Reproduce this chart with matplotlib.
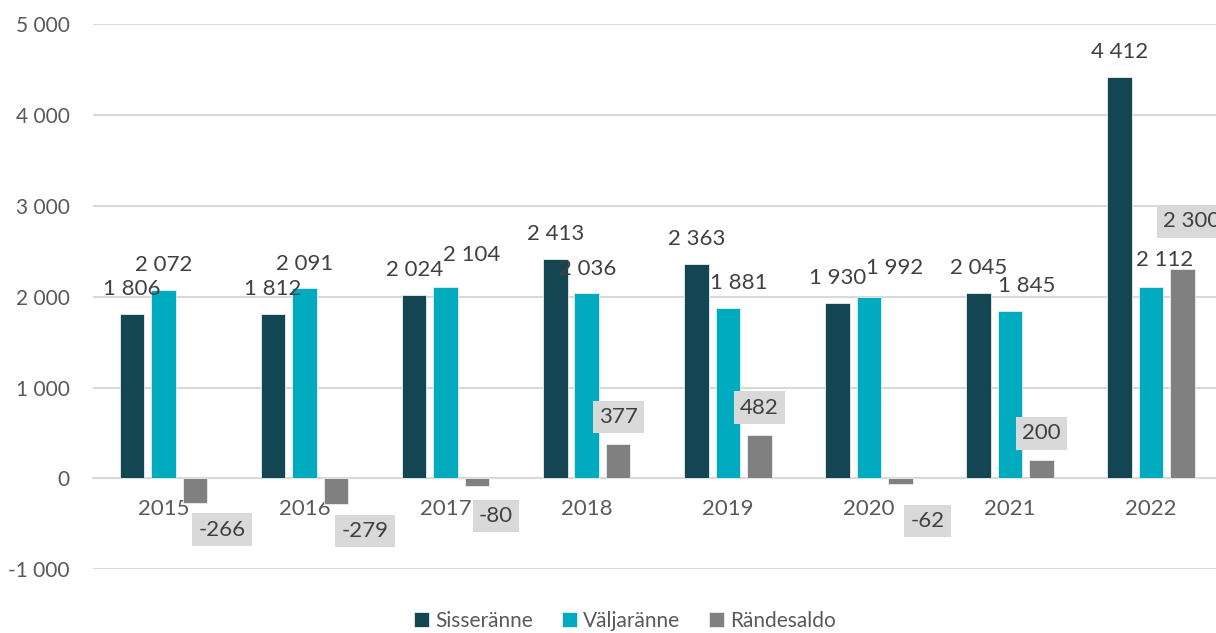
import matplotlib
matplotlib.use("Agg")
import matplotlib.pyplot as plt
import numpy as np

# Andmed
aastad = ["2015", "2016", "2017", "2018", "2019", "2020", "2021", "2022"]
sisseranne = [1806, 1812, 2024, 2413, 2363, 1930, 2045, 4412]
valjaranne = [2072, 2091, 2104, 2036, 1881, 1992, 1845, 2112]
randesaldo = [-266, -279, -80, 377, 482, -62, 200, 2300]

# sildi nihked pikslites (dx, dy) tulba otsast
nihe_sisse = [(0, 25)] * 8
nihe_valja = [(0, 25), (0, 24), (26, 32), (1, 24), (11, 25), (26, 29), (17, 25), (14, 27)]
nihe_saldo = [(27, -27), (29, -27), (19, -30), (0, 27), (0, 27), (27, -37), (0, 27), (9, 48)]

varvid = ["#134652", "#00ABC0", "#808080"]
tekst = "#404040"

plt.rcParams["font.family"] = ["Lato", "DejaVu Sans"]


def vorming(v):
    s = f"{abs(v):,}".replace(",", " ")
    return ("-" if v < 0 else "") + s


fig = plt.figure(figsize=(12.16, 6.33), dpi=100)
ax = fig.add_axes([0.0764, 0.1005, 0.9236, 0.8616])

x = np.arange(len(aastad))
laius = 0.174
samm = 0.223

seeriad = [
    ("Sisseränne", sisseranne, -samm, nihe_sisse),
    ("Väljaränne", valjaranne, 0, nihe_valja),
    ("Rändesaldo", randesaldo, samm, nihe_saldo),
]

for i, (nimi, vaartused, nihe, sildid) in enumerate(seeriad):
    tulbad = ax.bar(x + nihe, vaartused, width=laius, color=varvid[i],
                    edgecolor="#E8EEF0", linewidth=0.6, label=nimi, zorder=3)
    for tulp, v, (dx, dy) in zip(tulbad, vaartused, sildid):
        xc = tulp.get_x() + tulp.get_width() / 2
        kast = None
        if i == 2:
            kast = dict(boxstyle="square,pad=0.28", facecolor="#D9D9D9", edgecolor="none")
        ax.annotate(vorming(v), xy=(xc, v), xytext=(dx, dy),
                    textcoords="offset pixels", ha="center", va="center",
                    fontsize=16, color=tekst, bbox=kast, zorder=5,
                    annotation_clip=False)

ax.set_ylim(-1000, 5000)
ax.set_xlim(-0.5, 7.46)
ax.set_yticks(range(-1000, 5001, 1000))
ax.set_yticklabels([vorming(v) for v in range(-1000, 5001, 1000)])
ax.set_xticks(x)
ax.set_xticklabels(aastad)

ax.grid(axis="y", color="#D9D9D9", linewidth=1.5, zorder=0)
for s in ["top", "right", "left"]:
    ax.spines[s].set_visible(False)
ax.spines["bottom"].set_position(("data", 0))
ax.spines["bottom"].set_color("#D9D9D9")
ax.spines["bottom"].set_linewidth(1.5)
ax.tick_params(axis="x", length=0, pad=15, labelsize=16, labelcolor="#595959")
ax.tick_params(axis="y", length=0, pad=16.5, labelsize=15, labelcolor="#595959")

fig.legend(loc="center", bbox_to_anchor=(625 / 1216, 1 - 621 / 633), ncol=3,
           frameon=False, fontsize=15, labelcolor="#595959",
           handlelength=0.7, handleheight=0.7, handletextpad=0.3,
           columnspacing=1.4)

fig.savefig("out.png", dpi=100)
